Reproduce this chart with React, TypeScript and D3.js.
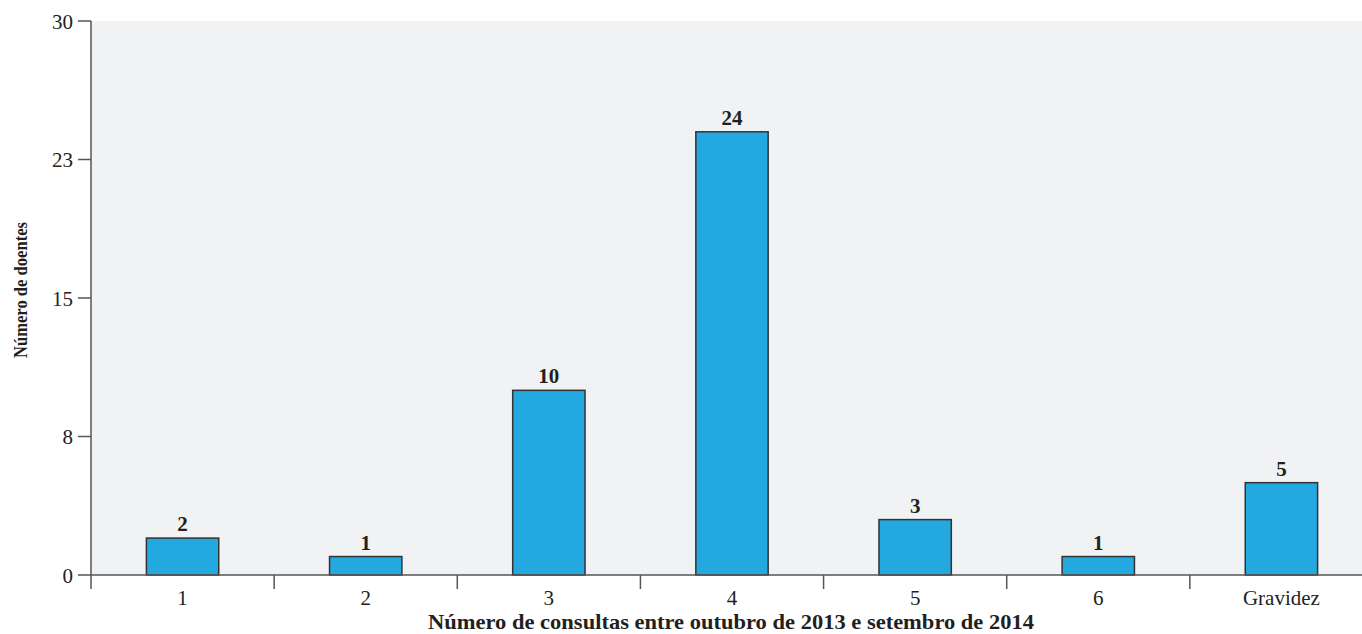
import React from "react";
import * as d3 from "d3";

const categories = ["1", "2", "3", "4", "5", "6", "Gravidez"];
const values = [2, 1, 10, 24, 3, 1, 5];
const yTicks = [0, 7.5, 15, 22.5, 30];
const yTickLabels = ["0", "8", "15", "23", "30"];
const xTitle = "Número de consultas entre outubro de 2013 e setembro de 2014";
const yTitle = "Número de doentes";

const W = 1362;
const H = 634;
const left = 91;
const right = 1373;
const top = 21;
const bottom = 575;
const font = "Liberation Serif, Times New Roman, serif";

export default function App() {
  const x = d3.scaleBand<string>().domain(categories).range([left, right]).padding(0);
  const y = d3.scaleLinear().domain([0, 30]).range([bottom, top]);
  const bw = x.bandwidth() * 0.395;
  const boundaries = categories.map((c) => x(c) as number);

  return (
    <svg width={W} height={H} style={{ position: "absolute", left: 0, top: 0 }}>
      <rect x={left} y={top} width={W - left} height={bottom - top} fill="#f1f2f4" />
      {categories.map((c, i) => {
        const cx = (x(c) as number) + x.bandwidth() / 2;
        return (
          <g key={c}>
            <rect
              x={cx - bw / 2}
              y={y(values[i])}
              width={bw}
              height={bottom - y(values[i])}
              fill="#23a8e0"
              stroke="#333"
              strokeWidth={1.5}
            />
            <text
              x={cx}
              y={y(values[i]) - 7}
              textAnchor="middle"
              style={{ fontFamily: font }}
              fontWeight="bold"
              fontSize={21}
              fill="#231f20"
            >
              {values[i]}
            </text>
            <text x={cx} y={605} textAnchor="middle" style={{ fontFamily: font }} fontSize={21} fill="#231f20">
              {c}
            </text>
          </g>
        );
      })}
      {/* x axis */}
      <line x1={left} x2={W} y1={bottom} y2={bottom} stroke="#555" strokeWidth={1.5} />
      {boundaries.map((b, i) => (
        <line key={i} x1={b} x2={b} y1={bottom} y2={bottom + 14} stroke="#555" strokeWidth={1.5} />
      ))}
      {/* y axis */}
      <line x1={left} x2={left} y1={top} y2={bottom} stroke="#555" strokeWidth={1.5} />
      {yTicks.map((t, i) => (
        <g key={t}>
          <line x1={left - 13} x2={left} y1={y(t)} y2={y(t)} stroke="#555" strokeWidth={1.5} />
          <text
            x={73}
            y={y(t) + 7.5}
            textAnchor="end"
            style={{ fontFamily: font }}
            fontSize={21}
            fill="#231f20"
          >
            {yTickLabels[i]}
          </text>
        </g>
      ))}
      <text
        x={731}
        y={629}
        textAnchor="middle"
        style={{ fontFamily: font }}
        fontWeight="bold"
        fontSize={21}
        textLength={606}
        lengthAdjust="spacingAndGlyphs"
        fill="#231f20"
      >
        {xTitle}
      </text>
      <text
        transform={`translate(27, 290) rotate(-90)`}
        textAnchor="middle"
        style={{ fontFamily: font }}
        fontWeight="bold"
        fontSize={19}
        textLength={136}
        lengthAdjust="spacingAndGlyphs"
        fill="#231f20"
      >
        {yTitle}
      </text>
    </svg>
  );
}
